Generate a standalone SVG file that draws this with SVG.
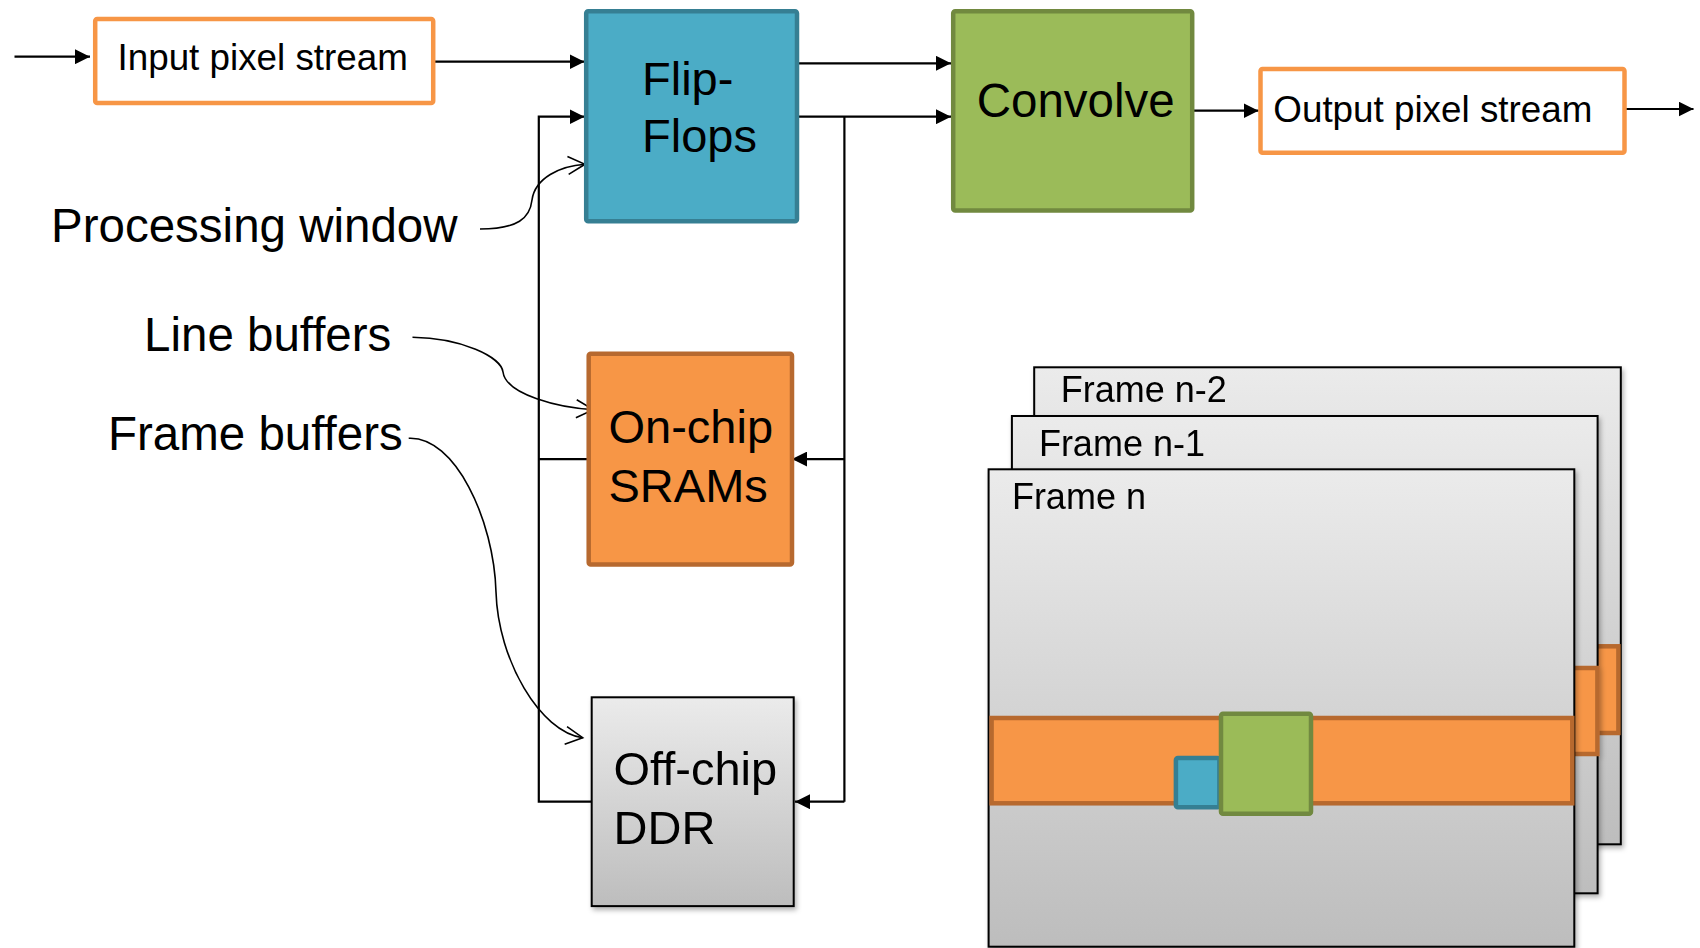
<svg xmlns="http://www.w3.org/2000/svg" width="1700" height="948" viewBox="0 0 1700 948">
  <style>
    text { font-family: "Liberation Sans", Arial, Helvetica, sans-serif; fill: #000; }
    .label { font-size: 47.5px; }
    .big { font-size: 47px; }
    .mid { font-size: 36.8px; }
    .small { font-size: 36px; }
    .wire { fill: none; stroke: #000; stroke-width: 2.2; }
    .callout { fill: none; stroke: #000; stroke-width: 1.6; }
    .stream { fill: #fff; stroke: #F79646; stroke-width: 4.5; }
    .teal { fill: #4BACC6; stroke: #367F93; stroke-width: 4.5; }
    .green { fill: #9BBB59; stroke: #71893F; stroke-width: 4.5; }
    .orange { fill: #F79646; stroke: #B7692F; stroke-width: 4.5; }
    .gray { fill: url(#grayFill); stroke: #000; stroke-width: 2; }
  </style>
  <defs>
    <linearGradient id="grayFill" x1="0" y1="0" x2="0" y2="1">
      <stop offset="0" stop-color="#EBEBEB"/>
      <stop offset="1" stop-color="#BDBDBD"/>
    </linearGradient>
    <filter id="shadow" x="-5%" y="-5%" width="115%" height="115%">
      <feDropShadow dx="2" dy="3" stdDeviation="2.5" flood-color="#000" flood-opacity="0.3"/>
    </filter>
    <marker id="solid" markerUnits="userSpaceOnUse" markerWidth="16" markerHeight="15" refX="15" refY="7.5" orient="auto">
      <path d="M0,0 L15,7.5 L0,15 Z" fill="#000"/>
    </marker>
    <marker id="open" markerUnits="userSpaceOnUse" markerWidth="20" markerHeight="22" refX="18" refY="10" orient="auto">
      <path d="M1,1 L18,10 L1,19" fill="none" stroke="#000" stroke-width="1.6"/>
    </marker>
  </defs>

  <!-- frame stack -->
  <g id="frame-n-2" filter="url(#shadow)">
    <rect x="1034.2" y="367.3" width="586.6" height="477" class="gray"/>
    <rect x="1036" y="646.3" width="582.4" height="86.7" class="orange" stroke-width="4"/>
    <text x="1060.8" y="401.7" class="small">Frame n-2</text>
  </g>
  <g id="frame-n-1" filter="url(#shadow)">
    <rect x="1011.9" y="416" width="585.7" height="477.3" class="gray"/>
    <rect x="1014" y="668" width="583.4" height="86" class="orange" stroke-width="4"/>
    <text x="1038.9" y="456" class="small">Frame n-1</text>
  </g>
  <g id="frame-n" filter="url(#shadow)">
    <rect x="988.6" y="469.3" width="585.7" height="477.4" class="gray"/>
    <rect x="991.6" y="718" width="580.7" height="85.3" class="orange" stroke-width="4"/>
    <rect x="1175.9" y="758" width="43.5" height="49.3" rx="2" class="teal" stroke-width="4"/>
    <rect x="1221" y="713.7" width="90" height="100" rx="2" class="green" stroke-width="4"/>
    <text x="1011.9" y="509.3" class="small">Frame n</text>
  </g>

  <!-- connectors -->
  <g id="connectors">
    <line x1="14.5" y1="56.7" x2="90" y2="56.7" class="wire" marker-end="url(#solid)"/>
    <line x1="434" y1="61.7" x2="584.5" y2="61.7" class="wire" marker-end="url(#solid)"/>
    <line x1="799" y1="63.3" x2="951" y2="63.3" class="wire" marker-end="url(#solid)"/>
    <line x1="799" y1="116.7" x2="951" y2="116.7" class="wire" marker-end="url(#solid)"/>
    <line x1="1194" y1="110.7" x2="1258.5" y2="110.7" class="wire" marker-end="url(#solid)"/>
    <line x1="1626" y1="109" x2="1693.5" y2="109" class="wire" marker-end="url(#solid)"/>
    <!-- feedback loop back into the flip-flops -->
    <polyline points="588,459.1 538.8,459.1" class="wire"/>
    <polyline points="591,801.7 538.8,801.7 538.8,116.7 584.5,116.7" class="wire" marker-end="url(#solid)"/>
    <!-- write paths into the buffers -->
    <line x1="844.4" y1="116.7" x2="844.4" y2="801.7" class="wire"/>
    <line x1="844.4" y1="459.1" x2="792" y2="459.1" class="wire" marker-end="url(#solid)"/>
    <line x1="844.4" y1="801.7" x2="795" y2="801.7" class="wire" marker-end="url(#solid)"/>
    <!-- callouts -->
    <path d="M480,229 C518,229 530,218 532,200 C535,178 560,166 585,164.3" class="callout" marker-end="url(#open)"/>
    <path d="M412.5,337.3 C462,338 501,357 503,372 C506,395 560,408 593.3,409.6" class="callout" marker-end="url(#open)"/>
    <path d="M408.7,438.3 C455,436 494,520 496,592 C498,660 540,732 582.7,737.7" class="callout" marker-end="url(#open)"/>
  </g>

  <!-- pipeline blocks -->
  <g id="input-stream">
    <rect x="95.2" y="19" width="338" height="84" rx="2" class="stream"/>
    <text x="117.5" y="70" class="mid">Input pixel stream</text>
  </g>
  <g id="flip-flops">
    <rect x="586.2" y="11.2" width="210.8" height="210" rx="2" class="teal"/>
    <text x="642" y="95" class="big">Flip-</text>
    <text x="642" y="151.7" class="big">Flops</text>
  </g>
  <g id="convolve">
    <rect x="953.2" y="11.2" width="239" height="199.4" rx="2" class="green"/>
    <text x="976.7" y="117.3" font-size="47.5">Convolve</text>
  </g>
  <g id="output-stream">
    <rect x="1260.5" y="69" width="364" height="83.7" rx="2" class="stream"/>
    <text x="1273.3" y="121.7" class="mid">Output pixel stream</text>
  </g>
  <g id="on-chip-sram">
    <rect x="588.7" y="353.8" width="203.3" height="210.6" rx="2" class="orange"/>
    <text x="608.5" y="442.8" class="big">On-chip</text>
    <text x="608.5" y="501.7" class="big">SRAMs</text>
  </g>
  <g id="off-chip-ddr" filter="url(#shadow)">
    <rect x="591.7" y="697.3" width="202" height="208.8" class="gray"/>
    <text x="613.5" y="785" class="big">Off-chip</text>
    <text x="613.5" y="843.9" class="big">DDR</text>
  </g>

  <!-- side labels -->
  <g id="label-processing-window">
    <text x="51" y="241.7" class="label">Processing window</text>
  </g>
  <g id="label-line-buffers">
    <text x="144" y="351" class="label">Line buffers</text>
  </g>
  <g id="label-frame-buffers">
    <text x="108" y="450" class="label">Frame buffers</text>
  </g>
</svg>
